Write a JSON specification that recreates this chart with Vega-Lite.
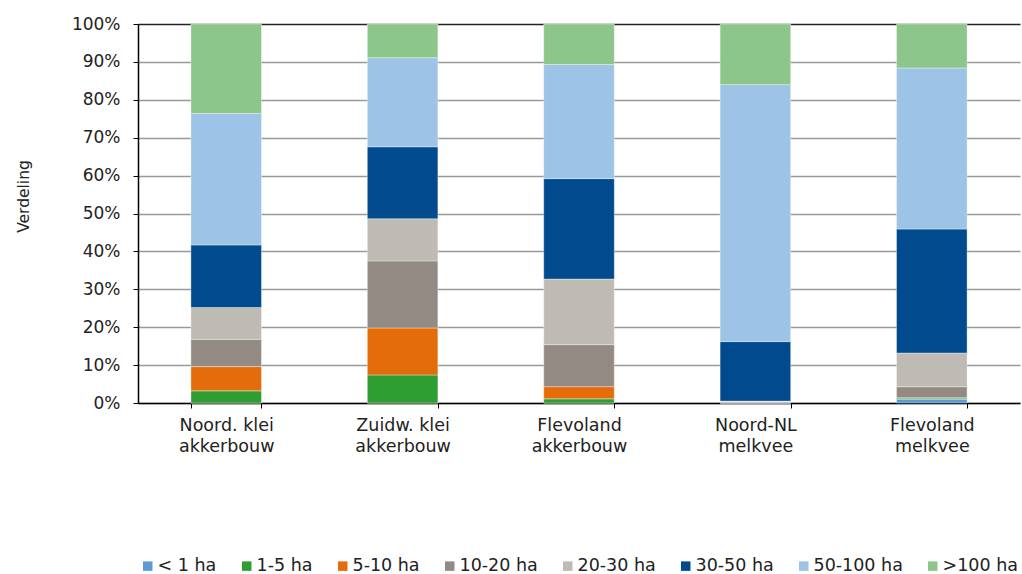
{
  "$schema": "https://vega.github.io/schema/vega-lite/v6.json",
  "autosize": {"type": "none"},
  "width": 882,
  "height": 379,
  "padding": {"left": 138, "top": 24, "right": 2, "bottom": 171},
  "background": "white",
  "config": {
    "font": "DejaVu Sans",
    "view": {"stroke": null}
  },
  "data": {
    "values": [
      {"cat": "Noord. klei|akkerbouw", "k": "< 1 ha", "o": 0, "v": 0},
      {"cat": "Noord. klei|akkerbouw", "k": "1-5 ha", "o": 1, "v": 3.2},
      {"cat": "Noord. klei|akkerbouw", "k": "5-10 ha", "o": 2, "v": 6.4},
      {"cat": "Noord. klei|akkerbouw", "k": "10-20 ha", "o": 3, "v": 7.2},
      {"cat": "Noord. klei|akkerbouw", "k": "20-30 ha", "o": 4, "v": 8.4},
      {"cat": "Noord. klei|akkerbouw", "k": "30-50 ha", "o": 5, "v": 16.5},
      {"cat": "Noord. klei|akkerbouw", "k": "50-100 ha", "o": 6, "v": 34.7},
      {"cat": "Noord. klei|akkerbouw", "k": ">100 ha", "o": 7, "v": 23.6},
      {"cat": "Zuidw. klei|akkerbouw", "k": "< 1 ha", "o": 0, "v": 0},
      {"cat": "Zuidw. klei|akkerbouw", "k": "1-5 ha", "o": 1, "v": 7.4},
      {"cat": "Zuidw. klei|akkerbouw", "k": "5-10 ha", "o": 2, "v": 12.4},
      {"cat": "Zuidw. klei|akkerbouw", "k": "10-20 ha", "o": 3, "v": 17.7},
      {"cat": "Zuidw. klei|akkerbouw", "k": "20-30 ha", "o": 4, "v": 11.1},
      {"cat": "Zuidw. klei|akkerbouw", "k": "30-50 ha", "o": 5, "v": 19.0},
      {"cat": "Zuidw. klei|akkerbouw", "k": "50-100 ha", "o": 6, "v": 23.5},
      {"cat": "Zuidw. klei|akkerbouw", "k": ">100 ha", "o": 7, "v": 8.9},
      {"cat": "Flevoland|akkerbouw", "k": "< 1 ha", "o": 0, "v": 0},
      {"cat": "Flevoland|akkerbouw", "k": "1-5 ha", "o": 1, "v": 1.1},
      {"cat": "Flevoland|akkerbouw", "k": "5-10 ha", "o": 2, "v": 3.2},
      {"cat": "Flevoland|akkerbouw", "k": "10-20 ha", "o": 3, "v": 11.1},
      {"cat": "Flevoland|akkerbouw", "k": "20-30 ha", "o": 4, "v": 17.3},
      {"cat": "Flevoland|akkerbouw", "k": "30-50 ha", "o": 5, "v": 26.5},
      {"cat": "Flevoland|akkerbouw", "k": "50-100 ha", "o": 6, "v": 30.1},
      {"cat": "Flevoland|akkerbouw", "k": ">100 ha", "o": 7, "v": 10.7},
      {"cat": "Noord-NL|melkvee", "k": "< 1 ha", "o": 0, "v": 0},
      {"cat": "Noord-NL|melkvee", "k": "1-5 ha", "o": 1, "v": 0},
      {"cat": "Noord-NL|melkvee", "k": "5-10 ha", "o": 2, "v": 0.1},
      {"cat": "Noord-NL|melkvee", "k": "10-20 ha", "o": 3, "v": 0.3},
      {"cat": "Noord-NL|melkvee", "k": "20-30 ha", "o": 4, "v": 0.1},
      {"cat": "Noord-NL|melkvee", "k": "30-50 ha", "o": 5, "v": 15.7},
      {"cat": "Noord-NL|melkvee", "k": "50-100 ha", "o": 6, "v": 67.8},
      {"cat": "Noord-NL|melkvee", "k": ">100 ha", "o": 7, "v": 16.0},
      {"cat": "Flevoland|melkvee", "k": "< 1 ha", "o": 0, "v": 1.0},
      {"cat": "Flevoland|melkvee", "k": "1-5 ha", "o": 1, "v": 0.3},
      {"cat": "Flevoland|melkvee", "k": "5-10 ha", "o": 2, "v": 0.1},
      {"cat": "Flevoland|melkvee", "k": "10-20 ha", "o": 3, "v": 2.9},
      {"cat": "Flevoland|melkvee", "k": "20-30 ha", "o": 4, "v": 8.9},
      {"cat": "Flevoland|melkvee", "k": "30-50 ha", "o": 5, "v": 32.7},
      {"cat": "Flevoland|melkvee", "k": "50-100 ha", "o": 6, "v": 42.5},
      {"cat": "Flevoland|melkvee", "k": ">100 ha", "o": 7, "v": 11.6}
    ]
  },
  "mark": {"type": "bar", "stroke": "white", "strokeWidth": 0.6, "strokeOpacity": 0.6},
  "encoding": {
    "x": {
      "field": "cat",
      "type": "nominal",
      "sort": null,
      "title": null,
      "scale": {"paddingInner": 0.6, "paddingOuter": 0.3},
      "axis": {
        "labelAngle": 0,
        "labelExpr": "isValid(datum.value) ? split(datum.value, '|') : ''",
        "labelFontSize": 17.5,
        "labelColor": "#222",
        "labelPadding": 8,
        "labelLineHeight": 21,
        "domainColor": "black",
        "domainWidth": 1.5,
        "tickBand": "extent",
        "tickColor": "black",
        "tickSize": 5,
        "tickWidth": 1
      }
    },
    "y": {
      "field": "v",
      "type": "quantitative",
      "stack": "normalize",
      "title": "Verdeling",
      "scale": {"domain": [0, 1]},
      "axis": {
        "format": ".0%",
        "values": [0, 0.1, 0.2, 0.3, 0.4, 0.5, 0.6, 0.7, 0.8, 0.9, 1],
        "labelFontSize": 17,
        "labelColor": "#222",
        "labelPadding": 13,
        "titleFontSize": 15.5,
        "titleFontWeight": "normal",
        "titleColor": "#222",
        "titleX": -107,
        "titleY": 172,
        "domainColor": "black",
        "domainWidth": 1.5,
        "tickColor": "black",
        "tickSize": 5,
        "grid": true,
        "gridColor": {"condition": {"test": "datum.value == 1", "value": "#222"}, "value": "#999"},
        "gridWidth": 1.5
      }
    },
    "color": {
      "field": "k",
      "type": "nominal",
      "sort": ["< 1 ha", "1-5 ha", "5-10 ha", "10-20 ha", "20-30 ha", "30-50 ha", "50-100 ha", ">100 ha"],
      "scale": {
        "domain": ["< 1 ha", "1-5 ha", "5-10 ha", "10-20 ha", "20-30 ha", "30-50 ha", "50-100 ha", ">100 ha"],
        "range": ["#5B9BD5", "#2E9E32", "#E46C0A", "#948A84", "#BEBAB4", "#004A8D", "#9DC3E6", "#8DC68A"]
      },
      "legend": {
        "title": null,
        "orient": "none",
        "direction": "horizontal",
        "legendX": 1,
        "legendY": 533,
        "symbolType": "square",
        "symbolSize": 90,
        "symbolStrokeWidth": 0,
        "labelFontSize": 17.5,
        "labelColor": "#222",
        "labelOffset": 1,
        "columnPadding": 21
      }
    },
    "order": {"field": "o", "type": "quantitative"}
  }
}
